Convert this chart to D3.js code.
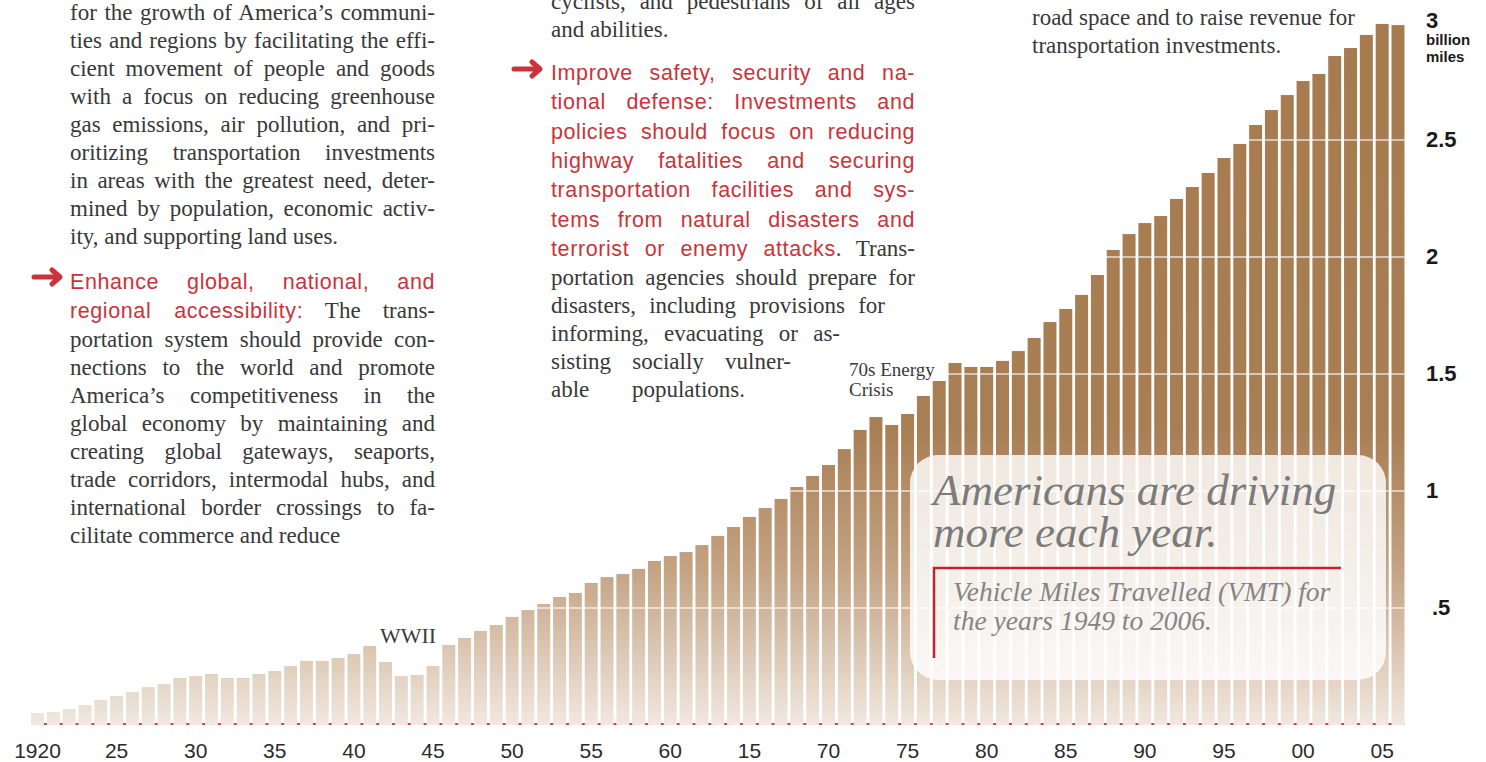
<!DOCTYPE html>
<html>
<head>
<meta charset="utf-8">
<script src="https://cdn.jsdelivr.net/npm/d3@7"></script>
<style>
  body { margin: 0; background: #fff; }
  svg { display: block; }
</style>
</head>
<body>
<script>
// vehicle miles travelled, billions of miles (x1000)
var years = d3.range(1920, 2007);
var vmt = [
  0.051, 0.056, 0.068, 0.085, 0.107, 0.124, 0.141, 0.162, 0.175, 0.201,
  0.209, 0.218, 0.201, 0.201, 0.218, 0.231, 0.252, 0.274, 0.274, 0.286,
  0.303, 0.338, 0.269, 0.209, 0.214, 0.252, 0.342, 0.372, 0.402, 0.427,
  0.462, 0.491, 0.517, 0.547, 0.564, 0.607, 0.632, 0.645, 0.667, 0.701,
  0.722, 0.739, 0.769, 0.808, 0.846, 0.889, 0.927, 0.966, 1.017, 1.064,
  1.111, 1.179, 1.261, 1.316, 1.282, 1.329, 1.406, 1.470, 1.547, 1.530,
  1.530, 1.556, 1.598, 1.654, 1.722, 1.778, 1.838, 1.923, 2.030, 2.098,
  2.145, 2.175, 2.248, 2.299, 2.359, 2.423, 2.483, 2.564, 2.628, 2.692,
  2.752, 2.782, 2.859, 2.893, 2.949, 2.996, 2.991
];
var xTickYears  = [1920, 1925, 1930, 1935, 1940, 1945, 1950, 1955, 1960, 1965, 1970, 1975, 1980, 1985, 1990, 1995, 2000, 2005];
var xTickLabels = ["1920", "25", "30", "35", "40", "45", "50", "55", "60", "15", "70", "75", "80", "85", "90", "95", "00", "05"];
var yTicks = [0.5, 1, 1.5, 2, 2.5, 3];
var yTickLabels = [".5", "1", "1.5", "2", "2.5", "3"];

// body copy: each line is a list of [text, isRed]
var leftCol = [
  [["for the growth of America\u2019s communi-"]],
  [["ties and regions by facilitating the effi-"]],
  [["cient movement of people and goods"]],
  [["with a focus on reducing greenhouse"]],
  [["gas emissions, air pollution, and pri-"]],
  [["oritizing transportation investments"]],
  [["in areas with the greatest need, deter-"]],
  [["mined by population, economic activ-"]],
  [["ity, and supporting land uses."]]
];
var leftCol2 = [
  [["Enhance global, national, and", true]],
  [["regional accessibility:", true], [" The trans-"]],
  [["portation system should provide con-"]],
  [["nections to the world and promote"]],
  [["America\u2019s competitiveness in the"]],
  [["global economy by maintaining and"]],
  [["creating global gateways, seaports,"]],
  [["trade corridors, intermodal hubs, and"]],
  [["international border crossings to fa-"]],
  [["cilitate commerce and reduce"]]
];
var midCol = [
  [["cyclists, and pedestrians of all ages"]],
  [["and abilities."]]
];
var midCol2 = [
  [["Improve safety, security and na-", true]],
  [["tional defense: Investments and", true]],
  [["policies should focus on reducing", true]],
  [["highway fatalities and securing", true]],
  [["transportation facilities and sys-", true]],
  [["tems from natural disasters and", true]],
  [["terrorist or enemy attacks", true], [". Trans-"]],
  [["portation agencies should prepare for"]],
  [["disasters, including provisions for"]],
  [["informing, evacuating or as-"]],
  [["sisting socially vulner-"]],
  [["able populations."]]
];
var rightCol = [
  [["road space and to raise revenue for"]],
  [["transportation investments."]]
];

var width = 1486, height = 762;
var baseY = 725;

var svg = d3.select("body").append("svg")
  .attr("width", width)
  .attr("height", height);

var defs = svg.append("defs");
var grad = defs.append("linearGradient")
  .attr("id", "barGrad")
  .attr("gradientUnits", "userSpaceOnUse")
  .attr("x1", 0).attr("x2", 0)
  .attr("y1", 20).attr("y2", baseY);
grad.append("stop").attr("offset", "0").attr("stop-color", "#a67b4f");
grad.append("stop").attr("offset", "0.58").attr("stop-color", "#a87e54");
grad.append("stop").attr("offset", "0.78").attr("stop-color", "#c4a383");
grad.append("stop").attr("offset", "1").attr("stop-color", "#f1e8df");

var x = d3.scaleBand()
  .domain(years)
  .range([29.6, 1405.9])
  .paddingInner(0.18)
  .paddingOuter(0.09);

var y = d3.scaleLinear()
  .domain([0, 3])
  .range([baseY, 23]);

// red baseline, shows only in the gaps between bars
svg.append("line")
  .attr("x1", x(1920)).attr("x2", x(2006) + x.bandwidth())
  .attr("y1", baseY - 1).attr("y2", baseY - 1)
  .attr("stroke", "#d0404c")
  .attr("stroke-width", 2);

svg.append("g").selectAll("rect")
  .data(years)
  .enter().append("rect")
  .attr("x", function(d) { return x(d) })
  .attr("width", x.bandwidth())
  .attr("y", function(d, i) { return y(vmt[i]) })
  .attr("height", function(d, i) { return baseY - y(vmt[i]) })
  .attr("fill", "url(#barGrad)");

// light gridlines over the bars
svg.append("g").selectAll("line")
  .data(yTicks.slice(0, 5))
  .enter().append("line")
  .attr("x1", x(1920)).attr("x2", x(2006) + x.bandwidth())
  .attr("y1", function(d) { return y(d) })
  .attr("y2", function(d) { return y(d) })
  .attr("stroke", "#fff")
  .attr("stroke-opacity", 0.75)
  .attr("stroke-width", 1.5);

// x labels
svg.append("g").selectAll("text")
  .data(xTickYears)
  .enter().append("text")
  .attr("x", function(d) { return x(d) + x.bandwidth() / 2 })
  .attr("y", 758)
  .attr("text-anchor", "middle")
  .attr("font-family", "Liberation Sans, Arial, sans-serif")
  .attr("font-size", 21)
  .attr("fill", "#2b2b2b")
  .text(function(d, i) { return xTickLabels[i] });

// y labels
svg.append("g").selectAll("text")
  .data(yTicks)
  .enter().append("text")
  .attr("x", function(d) { return d == 0.5 ? 1432 : 1426 })
  .attr("y", function(d) { return d == 3 ? y(d) + 5 : y(d) + 7 })
  .attr("font-family", "Liberation Sans, Arial, sans-serif")
  .attr("font-weight", "bold")
  .attr("font-size", 22)
  .attr("fill", "#1a1a1a")
  .text(function(d, i) { return yTickLabels[i] });

svg.append("text")
  .attr("x", 1426).attr("y", 45)
  .attr("font-family", "Liberation Sans, Arial, sans-serif")
  .attr("font-weight", "bold")
  .attr("font-size", 15)
  .attr("fill", "#1a1a1a")
  .text("billion");
svg.append("text")
  .attr("x", 1426).attr("y", 62)
  .attr("font-family", "Liberation Sans, Arial, sans-serif")
  .attr("font-weight", "bold")
  .attr("font-size", 15)
  .attr("fill", "#1a1a1a")
  .text("miles");

var serif = "Liberation Serif, Times New Roman, serif";
var sans = "Liberation Sans, Arial, sans-serif";
var red = "#c9343a";
var ink = "#383838";

// draws a block of lines; justified to w unless a ragged width is given
function block(lines, x0, w, baselines, ragged) {
  lines.forEach(function(line, i) {
    var t = svg.append("text")
      .attr("x", x0)
      .attr("y", baselines[i])
      .attr("fill", ink);
    line.forEach(function(seg) {
      t.append("tspan")
        .attr("font-family", seg[1] ? sans : serif)
        .attr("font-size", seg[1] ? 21.5 : 23)
        .attr("letter-spacing", seg[1] ? 0.6 : 0)
        .attr("fill", seg[1] ? red : ink)
        .text(seg[0]);
    });
    var target = ragged && ragged[i] !== undefined ? ragged[i] : w;
    if (target == null) return;
    var full = line.map(function(s) { return s[0] }).join("");
    var spaces = full.split(" ").length - 1;
    var len = t.node().getComputedTextLength();
    if (spaces > 0) t.style("word-spacing", ((target - len) / spaces) + "px");
  });
}

function steps(start, n, gap) {
  return d3.range(n).map(function(i) { return start + i * gap });
}

block(leftCol, 70, 365, steps(20, 9, 28), { 8: null });
block(leftCol2, 70, 365, [289, 318].concat(steps(347, 8, 28)), { 9: null });
block(midCol, 551, 364, [9, 37], { 1: null });
block(midCol2, 551, 364, steps(80, 7, 29.3).concat(steps(285, 5, 28)),
  { 8: 334, 9: 289, 10: 240, 11: 194 });
block(rightCol, 1032, 323, [25, 53], { 1: null });

// red arrows
function arrow(ax, ay) {
  svg.append("path")
    .attr("d", "M" + ax + "," + ay + "H" + (ax + 25) +
               "M" + (ax + 18) + "," + (ay - 7) + "L" + (ax + 26) + "," + ay + "L" + (ax + 18) + "," + (ay + 7))
    .attr("fill", "none")
    .attr("stroke", red)
    .attr("stroke-width", 5)
    .attr("stroke-linecap", "round")
    .attr("stroke-linejoin", "round");
}
arrow(34, 277);
arrow(514, 69);

// event notes
svg.append("text")
  .attr("x", 380).attr("y", 643)
  .attr("font-family", serif).attr("font-size", 22)
  .attr("fill", "#3a3a3a")
  .text("WWII");
svg.append("text")
  .attr("x", 849).attr("y", 376)
  .attr("font-family", serif).attr("font-size", 19)
  .attr("fill", "#3a3a3a")
  .text("70s Energy");
svg.append("text")
  .attr("x", 849).attr("y", 396)
  .attr("font-family", serif).attr("font-size", 19)
  .attr("fill", "#3a3a3a")
  .text("Crisis");

// title box
svg.append("rect")
  .attr("x", 910).attr("y", 455)
  .attr("width", 476).attr("height", 225)
  .attr("rx", 28)
  .attr("fill", "#fff")
  .attr("fill-opacity", 0.82);

svg.append("text")
  .attr("x", 933).attr("y", 505)
  .attr("font-family", serif).attr("font-style", "italic")
  .attr("font-size", 45)
  .attr("fill", "#7b7b7b")
  .text("Americans are driving");
svg.append("text")
  .attr("x", 933).attr("y", 547)
  .attr("font-family", serif).attr("font-style", "italic")
  .attr("font-size", 45)
  .attr("fill", "#7b7b7b")
  .text("more each year.");

svg.append("path")
  .attr("d", "M934,658V568H1341")
  .attr("fill", "none")
  .attr("stroke", "#c8202f")
  .attr("stroke-width", 2.5);

svg.append("text")
  .attr("x", 953).attr("y", 601)
  .attr("font-family", serif).attr("font-style", "italic")
  .attr("font-size", 27.5)
  .attr("fill", "#858585")
  .text("Vehicle Miles Travelled (VMT) for");
svg.append("text")
  .attr("x", 953).attr("y", 630)
  .attr("font-family", serif).attr("font-style", "italic")
  .attr("font-size", 27.5)
  .attr("fill", "#858585")
  .text("the years 1949 to 2006.");
</script>
</body>
</html>
